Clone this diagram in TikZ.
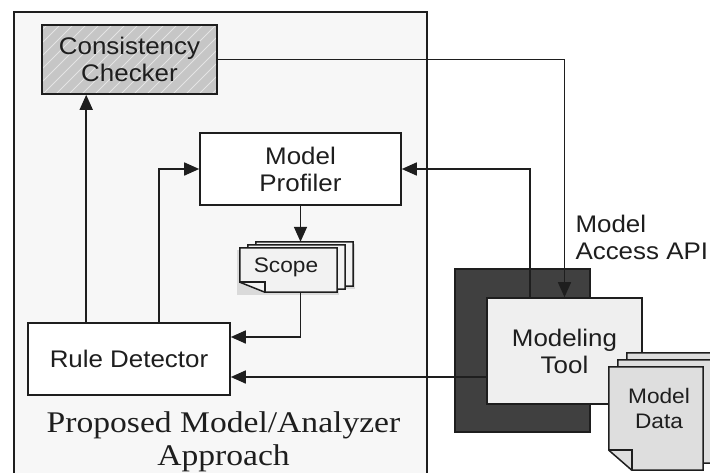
\documentclass[tikz,border=0pt]{standalone}
\usepackage{fontspec}
\setmainfont{Liberation Sans}[FakeStretch=1.08]
\newfontfamily\capfont{Liberation Serif}[FakeStretch=1.12]
\usetikzlibrary{arrows.meta,calc}

\definecolor{panelbg}{HTML}{F7F7F7}
\definecolor{ccgray}{HTML}{C6C6C6}
\definecolor{hatchc}{HTML}{E4E4E4}
\definecolor{toolbg}{HTML}{EFEFEF}
\definecolor{darkbg}{HTML}{404040}
\definecolor{databg}{HTML}{DEDEDE}
\definecolor{scopebg}{HTML}{F2F2F2}
\definecolor{ink}{HTML}{1E1E1E}

% a page with its bottom-left corner folded over
\newcommand{\sheet}[4]{%
  \draw[sheetline,fill=#4] (#1.north west) -- (#1.north east) -- (#1.south east)
    -- ([xshift=#2]#1.south west) -- ([yshift=#3]#1.south west) -- cycle;
  \draw[sheetline] ([yshift=#3]#1.south west) -| ([xshift=#2]#1.south west);}
% soft shadow behind a page
\newcommand{\sheetshadow}[1]{%
  \fill[black!25,opacity=0.5] ($(#1.north west)+(-3,2)$) rectangle ($(#1.south east)+(2,3)$);}

\begin{document}
\begin{tikzpicture}[x=1pt,y=-1pt,
  txt/.style={font=\fontsize{24}{27}\selectfont,text=ink},
  box/.style={draw=ink,line width=1.6pt,inner sep=0pt,align=center,txt},
  sheetline/.style={draw=ink,line width=1.5pt},
  blank/.style={draw=none,inner sep=0pt},
  conn/.style={draw=ink,line width=1.6pt},
  arr/.style={conn,-{Triangle[length=15pt,width=13pt]}}]
\useasboundingbox (0,0) rectangle (710,472);
\fill[white] (0,0) rectangle (710,472);

% the analyzer panel
\node[draw=ink,line width=1.6pt,fill=panelbg,anchor=north west,
      minimum width=413,minimum height=490] (panel) at (13,11) {};
\node[font=\capfont\fontsize{30}{35}\selectfont,text=ink,anchor=base] (cap1) at (223.5,432) {Proposed Model/Analyzer};
\node[font=\capfont\fontsize{30}{35}\selectfont,text=ink,anchor=base] (cap2) at (223.5,465) {Approach};

% modeling tool and its data
\node[draw=ink,line width=1.5pt,fill=darkbg,minimum width=135,minimum height=163] (mtback) at (522.5,350.5) {};
\node[box,fill=toolbg,minimum width=155,minimum height=106] (mt) at (564.5,351) {Modeling\\Tool};

\node[blank,minimum width=94,minimum height=103] (data3) at (674,404.5) {};
\node[blank,minimum width=94,minimum height=103] (data2) at (665,411.5) {};
\node[blank,minimum width=94,minimum height=103] (data) at (656,418.5) {};
\sheet{data3}{23pt}{20pt}{databg}
\sheet{data2}{23pt}{20pt}{databg}
\sheet{data}{23pt}{20pt}{databg}
\node[txt,font=\fontsize{21}{25}\selectfont,align=center] (datatxt) at (659,408) {Model\\Data};

% analyzer components
\node[box,fill=ccgray,minimum width=175,minimum height=69,
  path picture={\foreach \i in {-90,-77,...,190}
    \draw[hatchc,line width=0.8pt] ([xshift=\i pt]path picture bounding box.south west) -- ++(80,-80);}]
  (cc) at (129.5,59.5) {Consistency\\Checker};
\node[box,fill=white,minimum width=201,minimum height=72] (mp) at (300.5,169) {Model\\Profiler};
\node[box,fill=white,minimum width=202,minimum height=72] (rd) at (129,359) {Rule Detector};

\node[blank,minimum width=97,minimum height=44] (scope3) at (304.5,264) {};
\node[blank,minimum width=97,minimum height=44] (scope2) at (296.5,267) {};
\node[blank,minimum width=97,minimum height=44] (scope) at (288.5,270) {};
\sheetshadow{scope3}
\sheetshadow{scope}
\sheet{scope3}{25pt}{10pt}{scopebg}
\sheet{scope2}{25pt}{10pt}{scopebg}
\sheet{scope}{25pt}{10pt}{scopebg}
\node[txt,font=\fontsize{21}{25}\selectfont] (scopetxt) at (286,267) {Scope};

\node[txt,align=left,anchor=west] (api) at (572,237.5) {Model\\Access API};

% connectors
\coordinate (rdA) at ([xshift=59pt]rd.north west);
\coordinate (rdB) at ([xshift=132pt]rd.north west);
\coordinate (scB) at (mp.south |- scope.south);
\coordinate (mtL) at ([yshift=-26pt]mt.west);
\coordinate (mtA) at ([xshift=-34.5pt]mt.north);

\draw[arr] (rdA) -- (rdA |- cc.south);
\draw[arr] (rdB) |- (mp.west);
\draw[arr] (mp.south) -- (mp.south |- scope3.north);
\draw[arr] (scB) |- ([yshift=22pt]rd.east);
\draw[arr] (mtL) -- (mtL -| rd.east);
\draw[arr] (mtA) |- (mp.east);
\draw[arr] (cc.east) -| (mt.north);
\end{tikzpicture}
\end{document}
